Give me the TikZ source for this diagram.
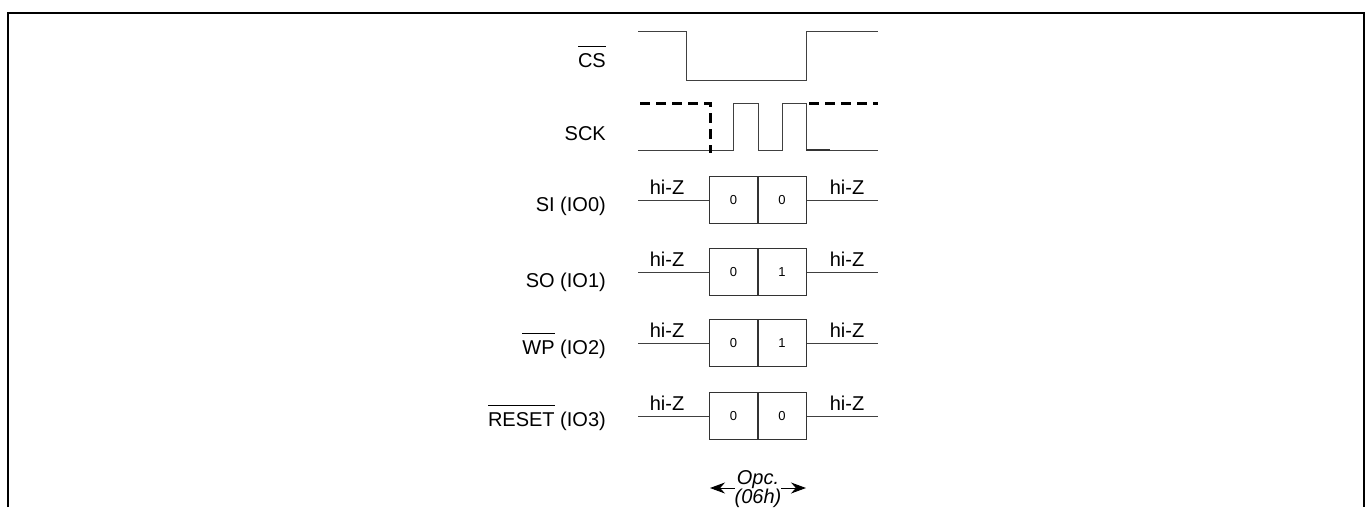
\documentclass[tikz,border=0pt]{standalone}
\usepackage{fontspec}
\setmainfont{Liberation Sans}
\usetikzlibrary{arrows.meta}
\newcommand\ovb[1]{$\overline{\mbox{\rule{0pt}{0.98em}#1}}$}
\begin{document}
\begin{tikzpicture}[x=1pt,y=-1pt,
  sig/.style={line width=0.9pt,black!75},
  dsig/.style={line width=3pt,black,dash pattern=on 10pt off 6pt},
  lbl/.style={anchor=base east,inner sep=0pt,font=\fontsize{20}{24}\selectfont},
  hiz/.style={anchor=base,inner sep=0pt,font=\fontsize{20}{24}\selectfont},
  cell/.style={draw,black!80,line width=0.9pt,minimum width=49pt,minimum height=47pt,inner sep=0pt,font=\fontsize{13}{15}\selectfont,text=black}]
\useasboundingbox (0,0) rectangle (1369,507);
\draw[line width=2pt] (8,507) -- (8,13) -- (1364,13) -- (1364,507);
% CS
\node[lbl] (lcs) at (606,67) {\ovb{CS}};
\coordinate (cs0) at (638,31);
\coordinate (cs1) at (878,31);
\draw[sig] (cs0) -- (686,31) -- (686,80) -- (806,80) -- (806,31) -- (cs1);
% SCK
\node[lbl] (lsck) at (606,140) {SCK};
\coordinate (sk0) at (638,150);
\coordinate (sk1) at (878,150);
\draw[sig] (sk0) -- (733,150) -- (733,103) -- (758,103) -- (758,150) -- (782,150) -- (782,103) -- (806,103) -- (806,150) -- (sk1);
\draw[line width=1.6pt,black!80] (806,150) -- (830,150);
\coordinate (sd0) at (640,103);
\coordinate (sd1) at (878,103);
\draw[dsig] (sd0) -- (710,103) -- (710,153);
\draw[dsig] (809,103) -- (sd1);
% data rows
\foreach \n/\lab/\a/\b/\y/\d in {si/SI (IO0)/0/0/200/11, so/SO (IO1)/0/1/272/15, wp/\ovb{WP} (IO2)/0/1/343/11, rs/\ovb{RESET} (IO3)/0/0/416/10}{
  \node[lbl] (l\n) at (606,\y+\d) {\lab};
  \node[cell] (a\n) at (733.5,\y) {\a};
  \node[cell] (b\n) at (782,\y) {\b};
  \coordinate (s\n) at (638,\y);
  \coordinate (e\n) at (878,\y);
  \draw[sig] (s\n) -- (a\n.west);
  \draw[sig] (b\n.east) -- (e\n);
  \node[hiz] (hl\n) at (667,\y-6) {hi-Z};
  \node[hiz] (hr\n) at (847,\y-6) {hi-Z};
}
% opcode arrow
\coordinate (o0) at (710,488);
\coordinate (o1) at (806,488);
\draw[line width=0.9pt,{Stealth[length=15pt,width=11pt]}-{Stealth[length=15pt,width=11pt]}] (o0) -- (o1);
\node[fill=white,inner sep=0pt,minimum width=46pt,align=center,font=\fontsize{20}{19}\selectfont\itshape] (opc) at (758,489) {Opc.\\(06h)};
\end{tikzpicture}
\end{document}
